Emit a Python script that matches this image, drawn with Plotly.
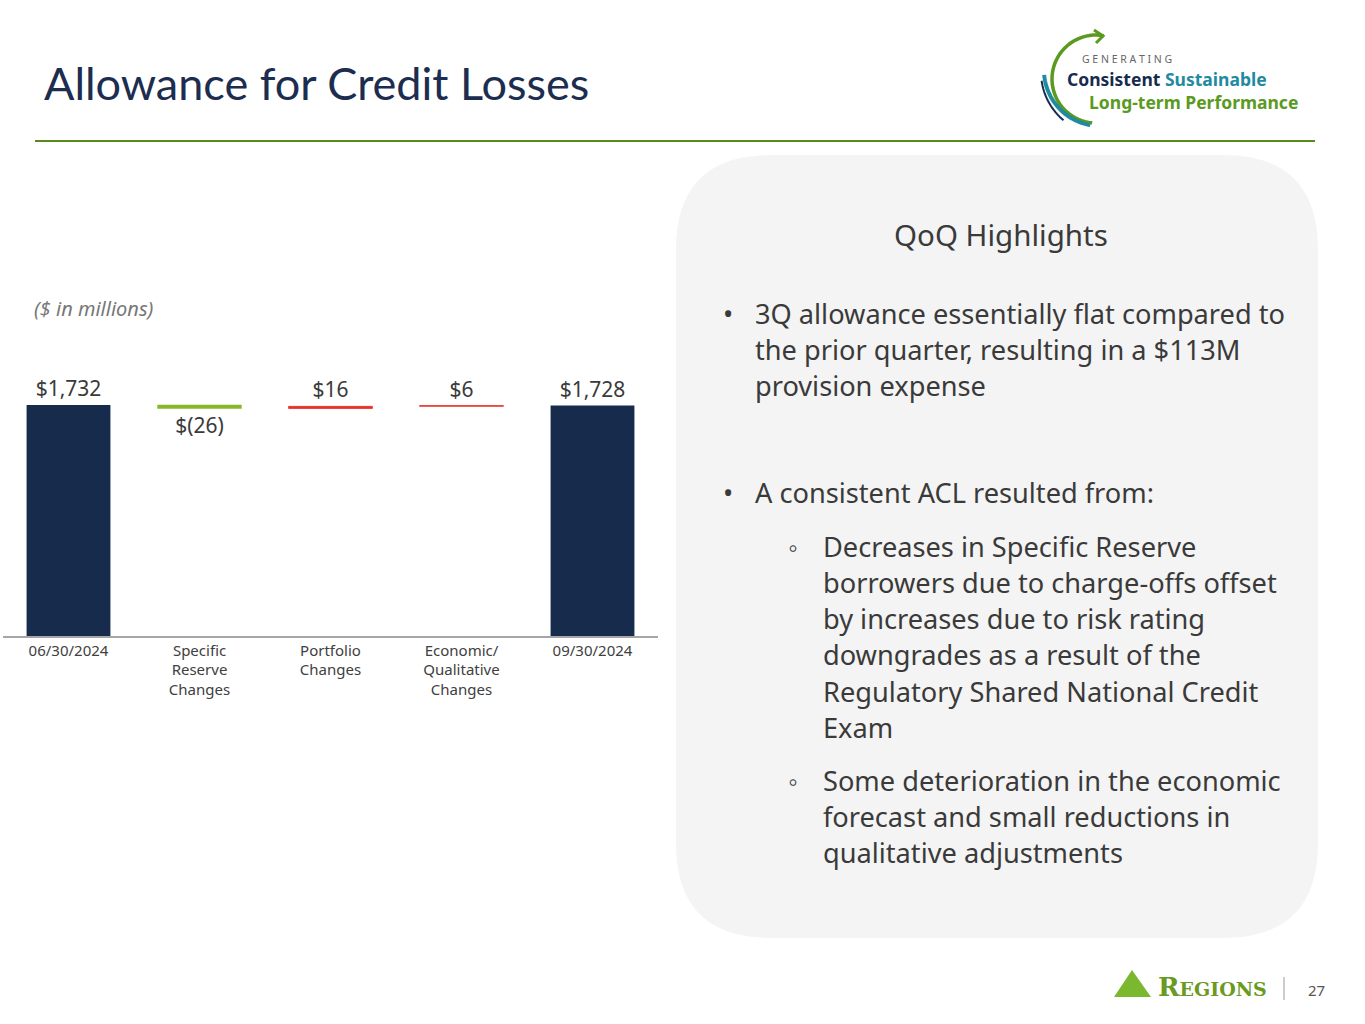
import math

import plotly.graph_objects as go

W, H = 1365, 1024

categories = ["06/30/2024", "Specific<br>Reserve<br>Changes", "Portfolio<br>Changes",
              "Economic/<br>Qualitative<br>Changes", "09/30/2024"]
measures = ["absolute", "relative", "relative", "relative", "total"]
values = [1732, -26, 16, 6, 1728]

bullet_1 = ["3Q allowance essentially flat compared to",
            "the prior quarter, resulting in a $113M",
            "provision expense"]
bullet_2 = ["A consistent ACL resulted from:"]
sub_1 = ["Decreases in Specific Reserve",
         "borrowers due to charge-offs offset",
         "by increases due to risk rating",
         "downgrades as a result of the",
         "Regulatory Shared National Credit",
         "Exam"]
sub_2 = ["Some deterioration in the economic",
         "forecast and small reductions in",
         "qualitative adjustments"]

NAVY = "#172b4d"
GREEN = "#86b82a"
RED = "#e5332a"
TEXT = "#3a3a3a"
FONT = "Noto Sans"


def px(x):
    return x / W


def py(y):
    return 1 - y / H


def money(v):
    return f"${v:,}" if v >= 0 else f"$({-v:,})"


def arc_path(cx, cy, r, a0, a1, n=40):
    # a0/a1 in degrees, screen coords (y down)
    pts = []
    for i in range(n + 1):
        a = math.radians(a0 + (a1 - a0) * i / n)
        pts.append((px(cx + r * math.cos(a)), py(cy + r * math.sin(a))))
    return "M " + " L ".join(f"{x:.5f},{y:.5f}" for x, y in pts)


def rounded_rect(x0, y0, x1, y1, r):
    return (f"M {px(x0 + r)},{py(y0)} L {px(x1 - r)},{py(y0)} "
            f"Q {px(x1)},{py(y0)} {px(x1)},{py(y0 + r)} L {px(x1)},{py(y1 - r)} "
            f"Q {px(x1)},{py(y1)} {px(x1 - r)},{py(y1)} L {px(x0 + r)},{py(y1)} "
            f"Q {px(x0)},{py(y1)} {px(x0)},{py(y1 - r)} L {px(x0)},{py(y0 + r)} "
            f"Q {px(x0)},{py(y0)} {px(x0 + r)},{py(y0)} Z")


fig = go.Figure(go.Waterfall(
    x=categories, measure=measures, y=values,
    text=[money(v) for v in values],
    textposition="outside",
    textfont=dict(family=FONT, size=21, color=TEXT),
    increasing=dict(marker=dict(color=RED, line=dict(color=RED, width=0.8))),
    decreasing=dict(marker=dict(color=GREEN, line=dict(color=GREEN, width=0.5))),
    totals=dict(marker=dict(color=NAVY)),
    connector=dict(visible=False),
    cliponaxis=False,
    width=0.64,
    hoverinfo="skip",
))

fig.update_layout(
    width=W, height=H,
    margin=dict(l=0, r=0, t=0, b=0),
    paper_bgcolor="white", plot_bgcolor="rgba(0,0,0,0)",
    showlegend=False,
    xaxis=dict(domain=[px(3), px(658)], showgrid=False, showline=True,
               linecolor="#a6a6a6", linewidth=1.5, ticks="",
               tickfont=dict(family=FONT, size=15, color="#404040")),
    yaxis=dict(domain=[py(636), py(302.6)], range=[0, 2500], visible=False,
               showgrid=False, zeroline=False),
)

shapes = [
    dict(type="line", xref="paper", yref="paper", x0=px(35), x1=px(1315),
         y0=py(141), y1=py(141), line=dict(color="#5a8a1c", width=2)),
    dict(type="path", xref="paper", yref="paper", path=rounded_rect(676, 155, 1318, 938, 95),
         fillcolor="#f4f4f4", line=dict(width=0), layer="below"),
    # logo arcs
    dict(type="path", xref="paper", yref="paper", path=arc_path(1096, 79, 44, -80, -265),
         line=dict(color="#5a9a1e", width=3.5)),
    dict(type="path", xref="paper", yref="paper",
         path=f"M {px(1094)},{py(30)} L {px(1103)},{py(36)} L {px(1096)},{py(43)}",
         line=dict(color="#5a9a1e", width=3)),
    dict(type="path", xref="paper", yref="paper", path=arc_path(1100, 70, 56, 175, 100),
         line=dict(color="#1f8aa0", width=4)),
    dict(type="path", xref="paper", yref="paper", path=arc_path(1104, 72, 63, 172, 130),
         line=dict(color=NAVY, width=2)),
    # regions triangle
    dict(type="path", xref="paper", yref="paper",
         path=f"M {px(1114)},{py(997)} L {px(1132)},{py(970)} L {px(1151)},{py(997)} Z",
         fillcolor="#7cb82f", line=dict(width=0)),
    dict(type="line", xref="paper", yref="paper", x0=px(1284), x1=px(1284),
         y0=py(977), y1=py(1000), line=dict(color="#999999", width=1)),
]
fig.update_layout(shapes=shapes)

ann = [
    dict(x=px(42), y=py(83), text="Allowance for Credit Losses", xanchor="left",
         font=dict(family="Lato", size=45, color="#1c2d4f")),
    dict(x=px(32), y=py(308), text="<i>($ in millions)</i>", xanchor="left",
         font=dict(family=FONT, size=20, color="#777777")),
    dict(x=px(1001), y=py(234), text="QoQ Highlights", xanchor="center",
         font=dict(family=FONT, size=29.5, color=TEXT)),
    dict(x=px(1080), y=py(59), text="G E N E R A T I N G", xanchor="left",
         font=dict(family=FONT, size=10.5, color="#666666")),
    dict(x=px(1065), y=py(90), align="left",
         text="<b>Consistent</b> <b><span style='color:#1f8aa0'>Sustainable</span></b><br>"
              "<b><span style='color:#5a9a1e'>\u2003\u00a0Long-term Performance</span></b>",
         xanchor="left", font=dict(family=FONT, size=17.5, color=NAVY)),
    dict(x=px(1156), y=py(987),
         text="<b>R<span style='font-size:19px'>EGIONS</span></b>", xanchor="left",
         font=dict(family="DejaVu Serif", size=26, color="#6a9a22")),
    dict(x=px(1316), y=py(990), text="27", xanchor="center",
         font=dict(family=FONT, size=15, color="#555555")),
]

body = dict(family=FONT, size=27.2, color=TEXT)


def para(lines, x, y_first, marker, mx):
    out = [dict(x=px(mx), y=py(y_first), text=marker, xanchor="left", font=body)]
    for i, line in enumerate(lines):
        out.append(dict(x=px(x), y=py(y_first + i * 36.3), text=line, xanchor="left", font=body))
    return out


ann += para(bullet_1, 753, 313, "•", 721)
ann += para(bullet_2, 753, 492, "•", 721)
ann += para(sub_1, 821, 546, "◦", 786)
ann += para(sub_2, 821, 780, "◦", 786)

for a in ann:
    a.setdefault("xref", "paper")
    a.setdefault("yref", "paper")
    a.setdefault("showarrow", False)
    a.setdefault("yanchor", "middle")
fig.update_layout(annotations=ann)

fig.write_html("out.html", config={"displayModeBar": False},
               post_script="document.body.style.margin='0';")
